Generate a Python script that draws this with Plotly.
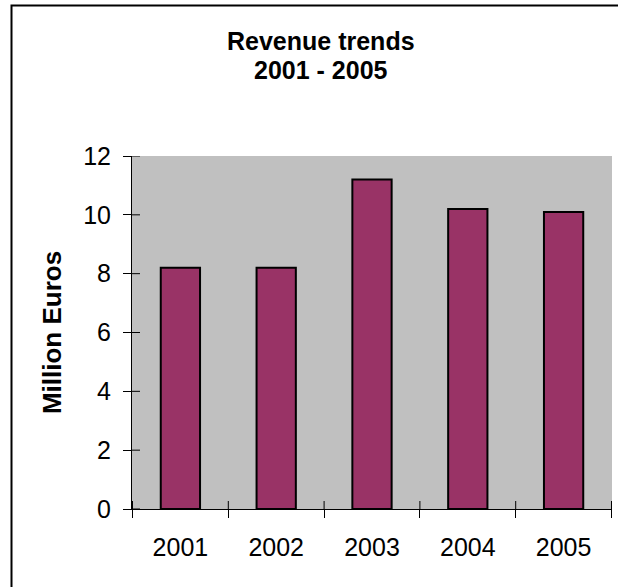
import plotly.graph_objects as go

# Annual revenue, in million euros
years = ["2001", "2002", "2003", "2004", "2005"]
revenue = [8.2, 8.2, 11.2, 10.2, 10.1]
y_ticks = [0, 2, 4, 6, 8, 10, 12]

W, H = 618, 587
ML, MR, MT, MB = 132, 6, 156, 78
pw, ph = W - ML - MR, H - MT - MB

def px_x(p):
    return (p - ML) / pw

def px_y(p):
    return (H - MB - p) / ph

font = "Liberation Sans, Arial, sans-serif"
axis_font = dict(family=font, size=25, color="black")
title_font = dict(family=font, size=25, color="black", weight="bold")

fig = go.Figure()
fig.add_trace(go.Bar(
    x=years, y=revenue,
    marker=dict(color="#993366", line=dict(color="black", width=2)),
    hoverinfo="x+y",
))

# inner halves of the tick marks, so every tick crosses its axis line
inner_ticks = []
for v in y_ticks:
    inner_ticks.append(dict(
        type="line", xref="paper", yref="y", xsizemode="pixel", xanchor=0,
        x0=0, x1=8, y0=v, y1=v, line=dict(color="black", width=1),
    ))
for i in range(len(years) + 1):
    inner_ticks.append(dict(
        type="line", xref="x", yref="paper", ysizemode="pixel", yanchor=0,
        x0=i - 0.5, x1=i - 0.5, y0=0, y1=8, line=dict(color="black", width=1),
    ))

frame = dict(
    type="rect", xref="paper", yref="paper",
    x0=px_x(11.5), x1=px_x(W + 20), y0=px_y(H + 20), y1=px_y(5.5),
    line=dict(color="black", width=2), fillcolor="rgba(0,0,0,0)",
    layer="below",
)

# two-line chart title, set as separate lines for tighter leading
title_lines = [
    dict(text="Revenue trends", y=px_y(41)),
    dict(text="2001 - 2005", y=px_y(70)),
]

fig.update_layout(
    width=W, height=H,
    margin=dict(l=ML, r=MR, t=MT, b=MB, pad=0),
    paper_bgcolor="white",
    plot_bgcolor="#c0c0c0",
    showlegend=False,
    bargap=0.59,
    font=dict(family=font, color="black"),
    xaxis=dict(
        type="category", categoryorder="array", categoryarray=years,
        showgrid=False, zeroline=False,
        showline=True, linecolor="black", linewidth=1,
        ticks="outside", ticklen=8, tickcolor="black", tickwidth=1,
        tickson="boundaries", tickfont=axis_font,
        ticklabelstandoff=16,
    ),
    yaxis=dict(
        range=[0, 12], tickvals=y_ticks,
        showgrid=False, zeroline=False,
        showline=True, linecolor="black", linewidth=1,
        ticks="outside", ticklen=8, tickcolor="black", tickwidth=1,
        tickfont=axis_font, ticklabelstandoff=7,
        title=dict(text="Million Euros", standoff=14,
                   font=dict(family=font, size=26, color="black", weight="bold")),
    ),
    annotations=[
        dict(text=t["text"], x=px_x(321), y=t["y"], xref="paper", yref="paper",
             xanchor="center", yanchor="middle", showarrow=False, font=title_font)
        for t in title_lines
    ],
    shapes=inner_ticks + [frame],
)

fig.write_html("out.html")
